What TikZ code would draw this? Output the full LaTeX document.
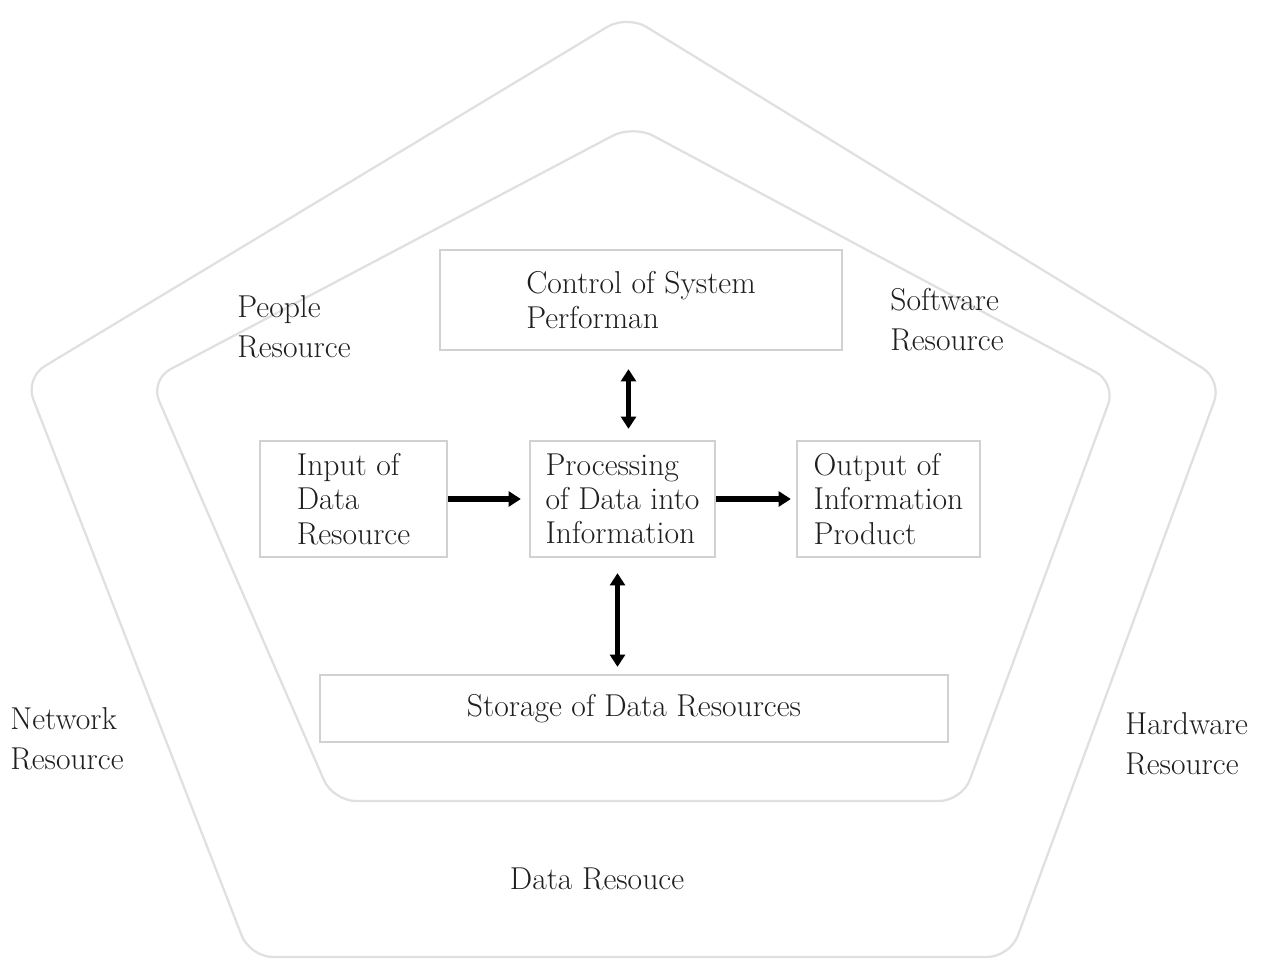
\documentclass[tikz,border=0pt]{standalone}
\usetikzlibrary{arrows.meta,calc}
\begin{document}
\begin{tikzpicture}[x=0.02cm,y=-0.02cm,
  every node/.style={text=black!88},
  boxfont/.style={font=\fontsize{18}{19.5}\selectfont},
  lblfont/.style={font=\fontsize{18}{23}\selectfont},
  ring/.style={draw=black!12, line width=1.3pt, rounded corners=13pt},
  stepbox/.style={boxfont, draw=black!18, line width=1.3pt, align=left, inner sep=0pt},
  lbl/.style={lblfont, align=left, anchor=north west, inner sep=0pt},
  tip/.tip={Triangle[length=7pt,width=8.5pt]},
  flow/.style={line width=3pt, -tip},
  both/.style={line width=3pt, tip-tip},
]
\useasboundingbox (0,0) rectangle (1274,960);

% resource layers
\draw[ring] (627,15) -- (1222,380) -- (1010,957) -- (250,957) -- (25,378) -- cycle;
\draw[ring] (633,125) -- (1116,383) -- (962,801) -- (333,801) -- (150,380) -- cycle;

% information system activities
\node[stepbox, minimum width=8.04cm, minimum height=2cm] (ctrl) at (641,300)
  {Control of System\\Performan};
\node[stepbox, minimum width=3.74cm, minimum height=2.32cm] (inp) at (353.5,499)
  {Input of\\Data\\Resource};
\node[stepbox, minimum width=3.7cm, minimum height=2.32cm] (proc) at (622.5,499)
  {Processing\\of Data into\\Information};
\node[stepbox, minimum width=3.66cm, minimum height=2.32cm] (out) at (888.5,499)
  {Output of\\Information\\Product};
\node[stepbox, minimum width=12.56cm, minimum height=1.34cm] (stor) at (634,708.5)
  {Storage of Data Resources};

% resource labels
\node[lbl] (people) at (237,295) {People\\Resource};
\node[lbl] (soft) at (890,288) {Software\\Resource};
\node[lbl] (net) at (10,707) {Network\\Resource};
\node[lbl] (hard) at (1125,712) {Hardware\\Resource};
\node[lblfont, anchor=north, inner sep=0pt] (data) at (597,868) {Data Resouce};

% flows
\draw[both] ($(proc.north)+(6,-11)$) -- ($(proc.north |- ctrl.south)+(6,18)$);
\draw[flow] (inp.east) -- ([xshift=-0.16cm]proc.west);
\draw[flow] (proc.east) -- ([xshift=-0.1cm]out.west);
\draw[both] ($(proc.south)+(-5,15)$) -- ($(proc.south |- stor.north)+(-5,-7)$);
\end{tikzpicture}
\end{document}
